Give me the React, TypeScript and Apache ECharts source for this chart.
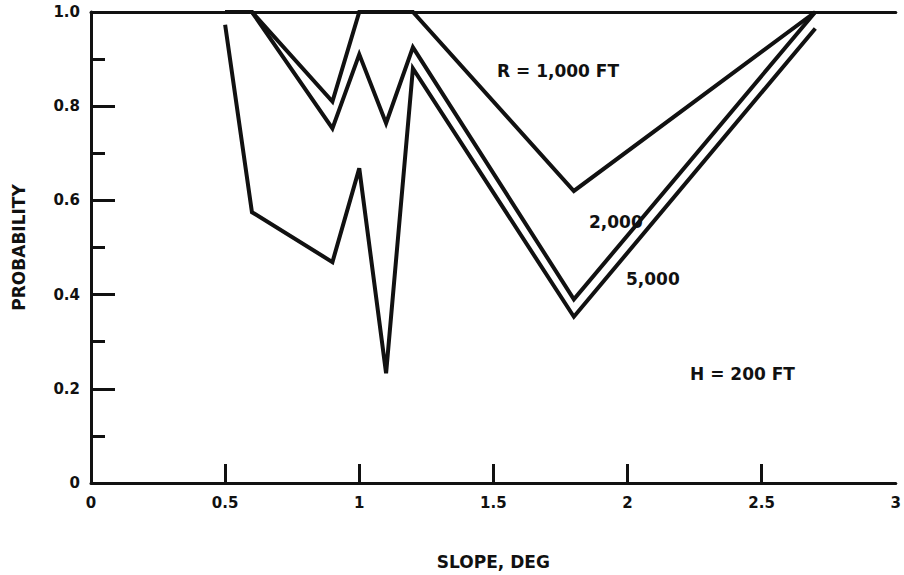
import React, { useEffect, useRef } from "react";
import * as echarts from "echarts";

const slopeR1000 = [0.5, 0.6, 0.9, 1.0, 1.2, 1.8, 2.7];
const probR1000 = [1.0, 1.0, 0.81, 1.0, 1.0, 0.62, 1.0];

const slopeR2000 = [0.5, 0.6, 0.9, 1.0, 1.1, 1.2, 1.8, 2.7];
const probR2000 = [1.0, 1.0, 0.753, 0.91, 0.764, 0.925, 0.39, 1.0];

const slopeR5000 = [0.5, 0.6, 0.9, 1.0, 1.1, 1.2, 1.8, 2.7];
const probR5000 = [0.973, 0.575, 0.469, 0.668, 0.233, 0.88, 0.353, 0.965];

const xTicks = ["0", "0.5", "1", "1.5", "2", "2.5", "3"];
const xTickMarks = [0, 0.5, 1, 1.5, 2, 2.5];
const yTicks = ["0", "0.2", "0.4", "0.6", "0.8", "1.0"];

const FONT = "DejaVu Sans";
const INK = "#111";

function pairs(xs: number[], ys: number[]) {
  return xs.map((x, i) => [x, ys[i]]);
}

export default function App() {
  const ref = useRef<HTMLDivElement>(null);
  useEffect(() => {
    if (!ref.current) return;
    const chart = echarts.init(ref.current, undefined, { renderer: "svg" });
    const lineStyle = { color: INK, width: 4, join: "miter" as const };
    const mkSeries = (name: string, xs: number[], ys: number[]) => ({
      name,
      type: "line",
      data: pairs(xs, ys),
      showSymbol: false,
      symbol: "none",
      lineStyle,
      xAxisIndex: 0,
      yAxisIndex: 0,
    });
    const textStyle = { fill: INK, font: `bold 17px "${FONT}"` };
    chart.setOption({
      animation: false,
      backgroundColor: "#fff",
      grid: { left: 91, top: 12, right: 1, bottom: 85 },
      xAxis: [
        {
          type: "value",
          min: 0,
          max: 3,
          interval: 0.5,
          name: "SLOPE, DEG",
          nameLocation: "middle",
          nameGap: 70,
          nameTextStyle: { color: INK, fontFamily: FONT, fontWeight: "bold", fontSize: 17 },
          axisLine: { show: true, onZero: false, lineStyle: { color: INK, width: 3 } },
          axisTick: {
            show: true,
            inside: true,
            length: 19,
            customValues: xTickMarks,
            lineStyle: { color: INK, width: 3 },
          },
          axisLabel: {
            color: INK,
            fontFamily: FONT,
            fontWeight: "bold",
            fontSize: 15,
            margin: 12,
            formatter: (v: number) => xTicks[Math.round(v / 0.5)] ?? "",
          },
          splitLine: { show: false },
        },
        {
          type: "value",
          position: "top",
          min: 0,
          max: 3,
          axisLine: { show: true, onZero: false, lineStyle: { color: INK, width: 3 } },
          axisTick: { show: false },
          axisLabel: { show: false },
          splitLine: { show: false },
        },
      ],
      yAxis: {
        type: "value",
        min: 0,
        max: 1,
        interval: 0.2,
        name: "PROBABILITY",
        nameLocation: "middle",
        nameGap: 64,
        nameRotate: 90,
        nameTextStyle: { color: INK, fontFamily: FONT, fontWeight: "bold", fontSize: 17 },
        axisLine: { show: true, onZero: false, lineStyle: { color: INK, width: 3 } },
        axisTick: { show: true, inside: true, length: 24, lineStyle: { color: INK, width: 3 } },
        minorTick: { show: true, splitNumber: 2, length: 14, lineStyle: { color: INK, width: 3 } },
        axisLabel: {
          color: INK,
          fontFamily: FONT,
          fontWeight: "bold",
          fontSize: 15,
          margin: 11,
          formatter: (v: number) => yTicks[Math.round(v / 0.2)] ?? "",
        },
        splitLine: { show: false },
        minorSplitLine: { show: false },
      },
      series: [
        mkSeries("R = 1,000 FT", slopeR1000, probR1000),
        mkSeries("2,000", slopeR2000, probR2000),
        mkSeries("5,000", slopeR5000, probR5000),
      ],
      graphic: [
        { type: "text", left: 497, top: 62, style: { text: "R = 1,000 FT", ...textStyle } },
        { type: "text", left: 589, top: 213, style: { text: "2,000", ...textStyle } },
        { type: "text", left: 626, top: 270, style: { text: "5,000", ...textStyle } },
        { type: "text", left: 690, top: 365, style: { text: "H = 200 FT", ...textStyle } },
      ],
    });
    return () => chart.dispose();
  }, []);
  return <div ref={ref} style={{ width: 904, height: 575, position: "absolute", left: 0, top: 0 }} />;
}
